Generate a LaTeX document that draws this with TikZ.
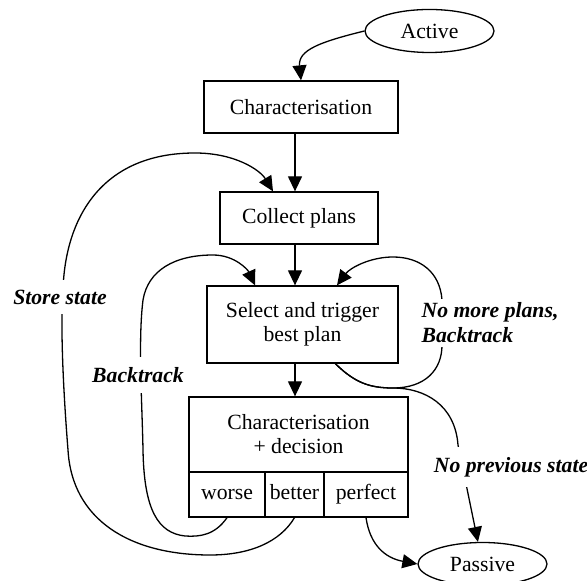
\documentclass[tikz,border=0pt]{standalone}
\usepackage{fontspec}
\setmainfont{Liberation Serif}
\usetikzlibrary{arrows.meta,shapes.geometric}

\begin{document}
\begin{tikzpicture}[x=0.5pt,y=-0.5pt,
  every node/.style={font=\fontsize{10.85}{12}\selectfont},
  box/.style={draw,line width=0.65pt,inner sep=0pt,align=center},
  state/.style={draw,ellipse,line width=0.65pt,inner sep=0pt,minimum width=64.5pt,minimum height=21.5pt},
  cell/.style={box,minimum height=22.5pt,text height=7.5pt,text depth=2.5pt},
  edge/.style={line width=0.65pt,-{Triangle[length=7.5pt,width=7pt]}},
  lab/.style={fill=white,inner xsep=1pt,inner ysep=5pt,font=\fontsize{10.85}{12.5}\selectfont\bfseries\itshape}]
\useasboundingbox (0,0) rectangle (587,581);
\node[state] (active) at (429.5,31) {Active};
\node[box,minimum width=97pt,minimum height=26pt] (charac) at (301,107) {Characterisation};
\node[box,minimum width=79pt,minimum height=26pt] (collect) at (299,218) {Collect plans};
\node[box,minimum width=95.5pt,minimum height=38.5pt] (select) at (302.5,324.5) {Select and trigger\\best plan};
\node[box,minimum width=109.5pt,minimum height=37.5pt] (decide) at (298.5,434.5) {Characterisation\\+ decision};
\foreach \n/\x/\w in {worse/227/38,better/294.5/29.5,perfect/366/42}
  \node[cell,minimum width=\w pt] (\n) at (\x,494.5) {\n};
\node[state] (passive) at (482.5,564) {Passive};
\coordinate (spine) at (295,0);
\draw[edge] (active.west) .. controls (320,42) and (298,50) .. (charac.north);
\draw[edge] (charac.south -| spine) -- (collect.north -| spine);
\draw[edge] (collect.south -| spine) -- (select.north -| spine);
\draw[edge] (select.south -| spine) -- (decide.north -| spine);
\draw[edge] (better.south) .. controls (280,542) and (250,555) .. (210,555) .. controls (130,555) and (72,520) .. (68,450) .. controls (64,400) and (60,330) .. (63,290) .. controls (65,220) and (100,153) .. (195,153) .. controls (235,153) and (260,170) .. ([xshift=-13pt]collect.north);
\draw[edge] (worse.south) .. controls (215,535) and (200,537) .. (185,536) .. controls (158,533) and (144,510) .. (143,450) .. controls (142,400) and (138,340) .. (143,300) .. controls (148,270) and (175,255) .. (213,255) .. controls (235,255) and (248,270) .. ([xshift=-23.75pt]select.north);
\draw[edge] (select.-50) .. controls (355,383) and (370,388) .. (393,388) .. controls (425,388) and (442,370) .. (442,345) -- (442,300) .. controls (440,272) and (420,257) .. (393,257) .. controls (370,257) and (350,268) .. ([xshift=17.25pt]select.north);
\draw[edge] (select.-50) .. controls (355,383) and (370,388) .. (393,388) .. controls (425,388) and (455,405) .. (458,445) -- (passive);
\draw[edge] (perfect.south) .. controls (370,545) and (385,558) .. (passive.west);
\node[lab] (store) at (60,297) {Store state};
\node[lab] (back) at (138,375) {Backtrack};
\node[lab,align=left,inner ysep=2pt] (nomore) at (490,323) {No more plans,\\Backtrack};
\node[lab] (noprev) at (511,467) {No previous state};
\end{tikzpicture}
\end{document}
